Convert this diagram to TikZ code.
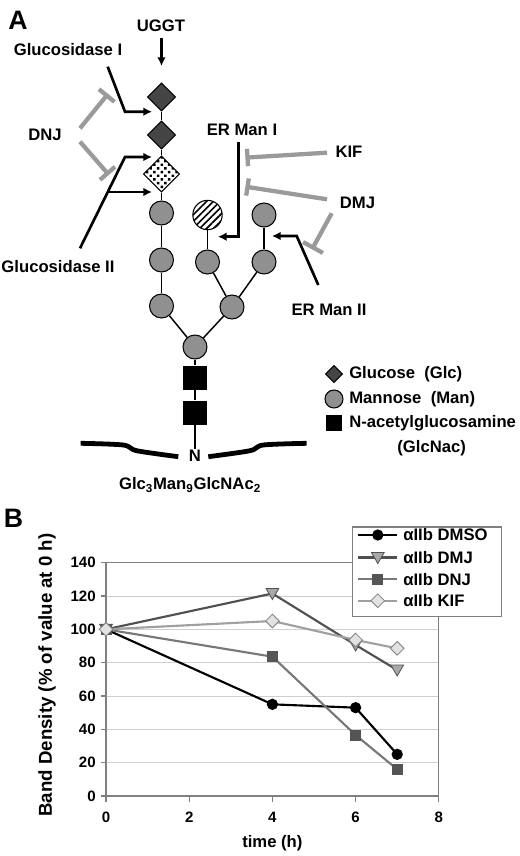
\documentclass[tikz,border=0pt]{standalone}
\usepackage{fontspec}
\setmainfont{Liberation Sans}
\usetikzlibrary{arrows.meta,shapes.geometric,patterns.meta,calc}
\definecolor{glcgrey}{HTML}{454545}
\definecolor{mangrey}{HTML}{909090}
\definecolor{inhgrey}{HTML}{9A9A9A}
\definecolor{axisgrey}{HTML}{808080}
\definecolor{gridgrey}{HTML}{CFCFCF}
\definecolor{dmjline}{HTML}{505050}
\definecolor{dmjfill}{HTML}{A8A8A8}
\definecolor{dnjline}{HTML}{787878}
\definecolor{dnjfill}{HTML}{555555}
\definecolor{kifline}{HTML}{A0A0A0}
\definecolor{kiffill}{HTML}{E2E2E2}
\begin{document}
\begin{tikzpicture}[x=0.75pt,y=-0.75pt,
  font=\bfseries\fontsize{12.5}{14}\selectfont,
  lbl/.style={inner sep=0pt},
  glc/.style={diamond,aspect=1,draw=black,line width=0.8pt,fill=glcgrey,minimum size=21pt,inner sep=0pt},
  chk/.style={diamond,aspect=1,draw=black,line width=0.8pt,fill=white,pattern={Dots[radius=1.3pt,distance=3.9pt,angle=45]},pattern color=black,minimum size=27pt,inner sep=0pt},
  man/.style={circle,draw=black,line width=0.8pt,fill=mangrey,minimum size=18pt,inner sep=0pt},
  hat/.style={circle,draw=black,line width=0.8pt,fill=white,pattern={Lines[angle=45,distance=3.6pt,line width=1.2pt]},pattern color=black,minimum size=22pt,inner sep=0pt},
  nag/.style={rectangle,fill=black,minimum size=18pt,inner sep=0pt},
  bond/.style={line width=1.1pt},
  enz/.style={line width=2pt,-{Latex[length=6.5pt,width=6.5pt]}},
  inh/.style={line width=3.2pt,draw=inhgrey},
  pline/.style={line width=1.6pt},
  mkA/.style={circle,fill=black,minimum size=8.5pt,inner sep=0pt},
  mkB/.style={regular polygon,regular polygon sides=3,shape border rotate=180,draw=dmjline,line width=0.6pt,fill=dmjfill,minimum size=11pt,inner sep=0pt},
  mkC/.style={rectangle,draw=dnjline!70!black,line width=0.6pt,fill=dnjfill,minimum size=7.5pt,inner sep=0pt},
  mkK/.style={diamond,aspect=1,draw=axisgrey,line width=0.6pt,fill=kiffill,minimum size=10.5pt,inner sep=0pt},
]
\useasboundingbox (0,0) rectangle (520,856);

% ---------------- Panel A ----------------
\node[lbl,font=\bfseries\fontsize{20}{22}\selectfont] (labA) at (18,20) {A};

% glycan residues
\node[glc] (d1) at (161.5,97) {};
\node[glc] (d2) at (161.5,135) {};
\node[chk] (d3) at (161.5,174) {};
\node[man] (m1) at (161.5,213) {};
\node[man] (m2) at (161.5,260) {};
\node[man] (m3) at (161.5,306) {};
\node[hat] (m4) at (207.5,215) {};
\node[man] (m5) at (207.5,262) {};
\node[man] (m6) at (264,215) {};
\node[man] (m7) at (264,262) {};
\node[man] (m8) at (232,307) {};
\node[man] (m9) at (195,347) {};
\node[nag] (s1) at (195,377.5) {};
\node[nag] (s2) at (195,412.7) {};
\node[lbl] (asn) at (195,456) {N};

\draw[bond] (d1) -- (d2);
\draw[bond] (d2) -- (d3);
\draw[bond] (d3) -- (m1);
\draw[bond] (m1) -- (m2);
\draw[bond] (m2) -- (m3);
\draw[bond] (m3) -- (m9);
\draw[bond] (m4) -- (m5);
\draw[bond] (m5) -- (m8);
\draw[bond] (m6) -- (m7);
\draw[bond] (m7) -- (m8);
\draw[bond] (m8) -- (m9);
\draw[bond] (m9) -- (s1);
\draw[bond] (s1) -- (s2);
\draw[bond] (s2) -- ([yshift=1pt]asn.north);

% membrane / peptide
\draw[line width=3.6pt,line join=round] plot[smooth,tension=0.5] coordinates {(80.7,443.3) (123.3,445) (136.7,450.7) (178.3,456.7)};
\draw[line width=3.6pt,line join=round] plot[smooth,tension=0.5] coordinates {(208.3,456.7) (250,450.7) (263.3,445) (306.7,443.3)};

\node[lbl] (gname) at (190,485) {Glc\textsubscript{3}Man\textsubscript{9}GlcNAc\textsubscript{2}};

% enzyme labels
\node[lbl] (uggt) at (161,26) {UGGT};
\node[lbl] (gcs1) at (68,50) {Glucosidase I};
\node[lbl] (dnj) at (45,135) {DNJ};
\node[lbl] (gcs2) at (58,267) {Glucosidase II};
\node[lbl] (erm1) at (242,130) {ER Man I};
\node[lbl] (kif) at (349,152) {KIF};
\node[lbl] (dmj) at (357.5,203.3) {DMJ};
\node[lbl] (erm2) at (329,310) {ER Man II};

% enzyme arrows
\coordinate (uA) at (161.5,38);
\coordinate (uB) at (161.5,66);
\draw[enz] (uA) -- (uB);

\coordinate (g1A) at (107.7,66.7);
\coordinate (g1B) at (125,111.7);
\coordinate (g1C) at (152,111.7);
\draw[enz] (g1A) -- (g1B) -- (g1C);

\coordinate (g2A) at (80,248.3);
\coordinate (g2B) at (125,157);
\coordinate (g2C) at (152,157);
\coordinate (g2D) at (107.6,192);
\coordinate (g2E) at (152,192);
\draw[enz] (g2A) -- (g2B) -- (g2C);
\draw[enz] (g2D) -- (g2E);

\coordinate (e1A) at (238.3,141.7);
\coordinate (e1B) at (238.3,236.7);
\coordinate (e1C) at (218,236.7);
\draw[enz] (e1A) -- (e1B) -- (e1C);

\coordinate (e2A) at (318.3,285);
\coordinate (e2B) at (296.7,236);
\coordinate (e2C) at (272,236);
\draw[enz] (e2A) -- (e2B) -- (e2C);

% inhibitor lines
\coordinate (n1A) at (80,128.3);
\coordinate (n1B) at (106.7,95.5);
\draw[inh] (n1A) -- (n1B);
\draw[inh] ($(n1B)!7.5pt!90:(n1A)$) -- ($(n1B)!7.5pt!-90:(n1A)$);

\coordinate (n2A) at (80,141.7);
\coordinate (n2B) at (107.5,173.3);
\draw[inh] (n2A) -- (n2B);
\draw[inh] ($(n2B)!7.5pt!90:(n2A)$) -- ($(n2B)!7.5pt!-90:(n2A)$);

\coordinate (k1A) at (327,152.7);
\coordinate (k1B) at (247.5,157.5);
\draw[inh] (k1A) -- (k1B);
\draw[inh] ($(k1B)!6.5pt!90:(k1A)$) -- ($(k1B)!6.5pt!-90:(k1A)$);

\coordinate (j1A) at (327,199.3);
\coordinate (j1B) at (247.5,187);
\draw[inh] (j1A) -- (j1B);
\draw[inh] ($(j1B)!6.5pt!90:(j1A)$) -- ($(j1B)!6.5pt!-90:(j1A)$);

\coordinate (j2A) at (331.7,213.3);
\coordinate (j2B) at (313,247.5);
\draw[inh] (j2A) -- (j2B);
\draw[inh] ($(j2B)!8.5pt!90:(j2A)$) -- ($(j2B)!8.5pt!-90:(j2A)$);

% legend A
\node[glc,minimum size=13pt] (lgA1) at (334,374) {};
\node[man,minimum size=13.5pt] (lgA2) at (334,399) {};
\node[nag,minimum size=12pt] (lgA3) at (334,423) {};
\node[lbl,anchor=west] (lgT1) at (349,374) {Glucose\ \ (Glc)};
\node[lbl,anchor=west] (lgT2) at (349,399) {Mannose\ \ (Man)};
\node[lbl,anchor=west] (lgT3) at (349,423) {N-acetylglucosamine};
\node[lbl] (lgT4) at (431.7,448.3) {(GlcNac)};

% ---------------- Panel B ----------------
\node[lbl,font=\bfseries\fontsize{20}{22}\selectfont] (labB) at (13.5,518) {B};
\node[lbl,rotate=90,font=\bfseries\fontsize{14}{16}\selectfont] (ylab) at (47,675) {Band Density (\% of value at 0 h)};

\begin{scope}[shift={(106,796)},x=31.2pt,y=1.25pt]
  \foreach \v in {20,40,...,120} \draw[gridgrey,line width=0.7pt] (0,\v) -- (8,\v);
  \draw[axisgrey,line width=0.9pt] (0,140) -- (8,140) -- (8,0);
  \draw[axisgrey,line width=1pt] (0,140) -- (0,0) -- (8,0);
  \foreach \v in {0,20,...,140} {
    \draw[axisgrey,line width=1pt] (-0.12,\v) -- (0,\v);
    \node[lbl,anchor=east,font=\bfseries\fontsize{11.3}{13}\selectfont] at (-0.24,\v) {\v};
  }
  \foreach \t in {0,2,4,6,8} {
    \draw[axisgrey,line width=1pt] (\t,0) -- (\t,-3.5);
    \node[lbl,font=\bfseries\fontsize{11.3}{13}\selectfont] at (\t,-13) {\t};
  }
  \node[lbl] (xlab) at (4,-28.5) {time (h)};

  % data coordinates
  \coordinate (a0) at (0,100); \coordinate (a4) at (4,55); \coordinate (a6) at (6,53); \coordinate (a7) at (7,25);
  \coordinate (b0) at (0,100); \coordinate (b4) at (4,121.5); \coordinate (b6) at (6,90.6); \coordinate (b7) at (7,75.6);
  \coordinate (c0) at (0,100); \coordinate (c4) at (4,83.6); \coordinate (c6) at (6,36.6); \coordinate (c7) at (7,16);
  \coordinate (k0) at (0,100); \coordinate (k4) at (4,105); \coordinate (k6) at (6,93.6); \coordinate (k7) at (7,88.6);

  \draw[pline,black] (a0) -- (a4) -- (a6) -- (a7);
  \draw[pline,dmjline] (b0) -- (b4) -- (b6) -- (b7);
  \draw[pline,dnjline] (c0) -- (c4) -- (c6) -- (c7);
  \draw[pline,kifline] (k0) -- (k4) -- (k6) -- (k7);

  \foreach \p in {a0,a4,a6,a7} \node[mkA] at (\p) {};
  \foreach \p in {b0,b4,b6,b7} \node[mkB,yshift=1pt] at (\p) {};
  \foreach \p in {c0,c4,c6,c7} \node[mkC] at (\p) {};
  \foreach \p in {k0,k4,k6,k7} \node[mkK] at (\p) {};
\end{scope}

% legend B
\draw[axisgrey,line width=0.9pt,fill=white] (352.3,527) rectangle (501.7,616.7);
\coordinate (la1) at (358.3,535); \coordinate (lb1) at (397.3,535); \coordinate (lm1) at (377.8,535);
\coordinate (la2) at (358.3,557.5); \coordinate (lb2) at (397.3,557.5); \coordinate (lm2) at (377.8,557.5);
\coordinate (la3) at (358.3,579.3); \coordinate (lb3) at (397.3,579.3); \coordinate (lm3) at (377.8,579.3);
\coordinate (la4) at (358.3,600.7); \coordinate (lb4) at (397.3,600.7); \coordinate (lm4) at (377.8,600.7);
\draw[pline,black] (la1) -- (lb1);
\draw[pline,dmjline] (la2) -- (lb2);
\draw[pline,dnjline] (la3) -- (lb3);
\draw[pline,kifline] (la4) -- (lb4);
\node[mkA] (lk1) at (lm1) {};
\node[mkB,yshift=1pt] (lk2) at (lm2) {};
\node[mkC] (lk3) at (lm3) {};
\node[mkK] (lk4) at (lm4) {};
\node[lbl,anchor=west] (lt1) at (403,535) {αIIb DMSO};
\node[lbl,anchor=west] (lt2) at (403,557.5) {αIIb DMJ};
\node[lbl,anchor=west] (lt3) at (403,579.3) {αIIb DNJ};
\node[lbl,anchor=west] (lt4) at (403,600.7) {αIIb KIF};
\end{tikzpicture}
\end{document}
